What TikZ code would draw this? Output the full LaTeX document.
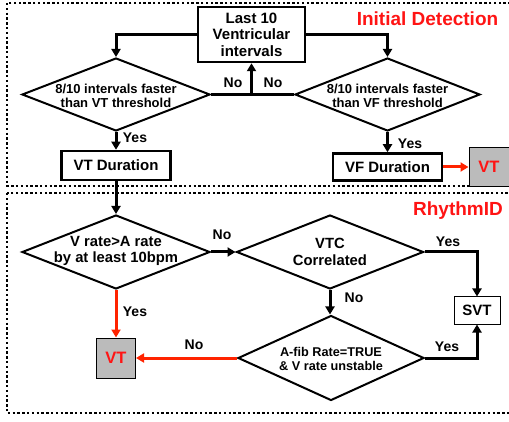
\documentclass[tikz,border=0pt]{standalone}
\usepackage{fontspec}
\setmainfont{Liberation Sans}
\usetikzlibrary{arrows.meta,shapes.geometric}
\definecolor{rtxt}{RGB}{255,20,20}
\definecolor{rarr}{RGB}{255,35,0}
\definecolor{boxgray}{RGB}{187,187,187}
\begin{document}
\begin{tikzpicture}[x=1pt,y=-1pt,
  frame/.style={line width=2pt, dash pattern=on 2.4pt off 2.4pt},
  dia/.style args={#1/#2}{diamond, draw, line width=2pt, inner sep=0pt, minimum width=#1, minimum height=#2},
  dtxt/.style={align=center, font=\bfseries\fontsize{13}{14}\selectfont, inner sep=0pt},
  box/.style={draw, line width=2.5pt, inner sep=0pt, align=center, font=\bfseries\fontsize{15}{16.5}\selectfont},
  res/.style={draw, line width=1pt, fill=boxgray, inner sep=0pt, text=rtxt, font=\bfseries\fontsize{16.5}{17}\selectfont, minimum width=40pt, minimum height=39pt},
  lab/.style={font=\bfseries\fontsize{14}{14}\selectfont, inner sep=0pt},
  ttl/.style={font=\bfseries\fontsize{19}{19}\selectfont, text=rtxt, inner sep=0pt},
  arr/.style={line width=3pt, -{Triangle[length=8pt,width=9pt]}},
  blk/.style={line width=3pt},
  rarrow/.style={rarr, -{Triangle[length=8pt,width=9pt]}}
]
\useasboundingbox (0,0) rectangle (509,422);
\clip (0,0) rectangle (509,422);
% frames
\draw[frame] (7,3) rectangle (515,186);
\draw[frame] (7,193) rectangle (515,413);
% titles
\node[ttl] (t1) at (427.5,19) {Initial Detection};
\node[ttl] (t2) at (458,211) {RhythmID};
% nodes top
\node[box, minimum width=107pt, minimum height=55pt] (last10) at (251.5,34.5) {Last 10\\Ventricular\\intervals};
\node[dia=188pt/73pt] (dVT) at (116,94.5) {};
\node[dtxt] (dVTt) at (116,96) {8/10 intervals faster\\than VT threshold};
\node[dia=185pt/73pt] (dVF) at (387.5,94.5) {};
\node[dtxt] (dVFt) at (387.5,96) {8/10 intervals faster\\than VF threshold};
\node[box, minimum width=109pt, minimum height=29pt] (VTdur) at (116,165.5) {VT Duration};
\node[box, minimum width=109pt, minimum height=27pt] (VFdur) at (387.5,167) {VF Duration};
\node[res] (VT1) at (489,167) {VT};
% nodes bottom
\node[dia=188pt/74pt] (dRate) at (116,252) {};
\node[dtxt, font=\bfseries\fontsize{14.8}{16}\selectfont] (dRatet) at (116,251) {V rate>A rate\\by at least 10bpm};
\node[dia=187pt/74pt] (dVTC) at (330,252) {};
\node[dtxt, font=\bfseries\fontsize{14.8}{17}\selectfont] (dVTCt) at (330,251.5) {VTC\\Correlated};
\node[dia=186pt/85pt] (dAfib) at (331,358) {};
\node[dtxt, font=\bfseries\fontsize{12.7}{14}\selectfont] (dAfibt) at (331,359) {A-fib Rate=TRUE\\\& V rate unstable};
\node[res, minimum width=39pt, minimum height=40pt] (VT2) at (116,358) {VT};
\node[draw, line width=1pt, inner sep=0pt, minimum width=46pt, minimum height=27pt, font=\bfseries\fontsize{15}{15}\selectfont] (SVT) at (477,310.5) {SVT};
% connectors top
\coordinate (jn) at (last10.south |- dVT.east);
\draw[arr] (last10.west) -| (dVT.north);
\draw[arr] (last10.east) -| (dVF.north);
\draw[arr] (dVT.east) -- (jn) -- (last10.south);
\draw[blk] (dVF.west) -- (jn);
\draw[arr] (dVT.south) -- (VTdur.north);
\draw[arr] (dVF.south) -- (VFdur.north);
\draw[rarrow, line width=3pt] (VFdur.east) -- (VT1.west);
\draw[arr] (VTdur.south) -- (dRate.north);
% connectors bottom
\draw[arr] (dRate.east) -- (dVTC.west);
\draw[arr] (dVTC.south) -- (dAfib.north -| dVTC.south);
\draw[arr] (dVTC.east) -| (SVT.north);
\draw[arr] (dAfib.east) -| (SVT.south);
\draw[rarrow, line width=3pt] (dRate.south) -- (VT2.north);
\draw[rarrow, line width=3pt] (dAfib.west) -- (VT2.east);
% labels
\node[lab] (l1) at (233,83) {No};
\node[lab] (l2) at (273,83) {No};
\node[lab] (l3) at (135,138) {Yes};
\node[lab] (l4) at (410,144) {Yes};
\node[lab] (l5) at (222,235) {No};
\node[lab] (l6) at (354,298) {No};
\node[lab] (l7) at (448,242) {Yes};
\node[lab] (l8) at (447,347) {Yes};
\node[lab] (l9) at (135,312) {Yes};
\node[lab] (l10) at (194,345) {No};
\end{tikzpicture}
\end{document}
